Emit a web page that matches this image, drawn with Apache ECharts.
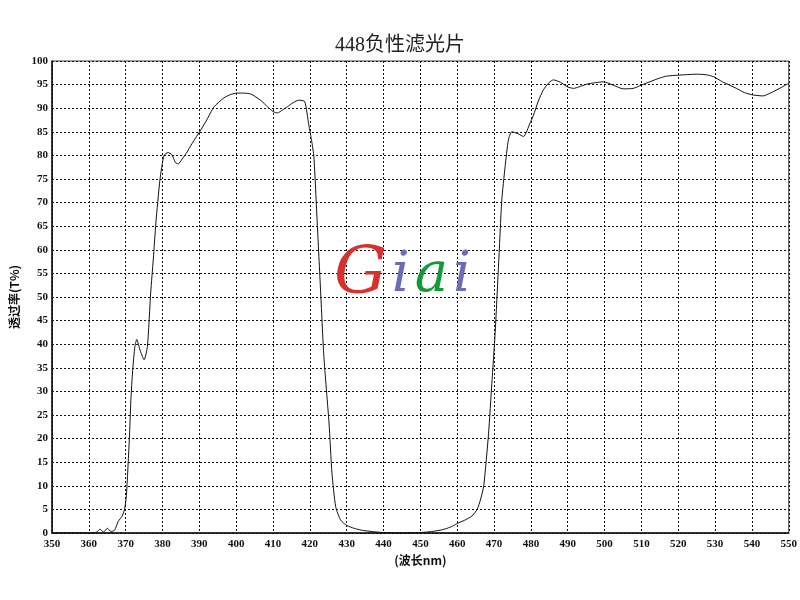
<!DOCTYPE html>
<html><head><meta charset="utf-8">
<script src="https://cdn.jsdelivr.net/npm/echarts@6/dist/echarts.min.js"></script>
<style>html,body{margin:0;padding:0;background:#fff}#c{width:800px;height:600px}</style>
</head><body><div id="c"></div>
<script>
var wavelengths = [350,355,360,362,363,364,365,366,367,368,369,369.7,370.2,371,371.4,371.9,372.5,373,374,375,375.9,376.8,377.5,378.2,379.3,380.4,381.5,382.5,383.5,384.3,385.3,386.5,388,390.4,392,394,396.7,398.5,400.3,402,404,406.6,408.5,410,411.2,412.5,413.9,415.5,417,418.6,419.7,420.5,421.1,422,422.9,423.8,425.2,426,427,428.3,430,432,434,437,440,445,450,453,456,458,460,462,464,465.4,466.3,467.2,468.5,469.4,470.3,471.2,472.1,473,473.9,474.8,476.5,478,479.8,480.7,482,483.4,485,486.1,488,490,491.6,493,495.2,497.5,499.7,502,505.1,507.8,510,512.3,515,516.9,520,525,527.5,529.5,532,535.8,538,540.3,543,545,548,550];
var transmittance = [0,0,0,0.1,0.8,0.2,1.0,0.3,0.6,2.5,3.5,5,8,20,28,34.5,39.5,41,38.5,36.7,39.5,51,58,65.7,74.8,80,80.6,80.2,78.5,78.2,79.2,80.5,82.5,85.4,87.5,90.3,92.2,92.9,93.2,93.2,93,91.7,90.3,89.3,89,89.6,90.3,91.2,91.7,91.4,86.5,83,79.7,65.7,51.5,37.4,23.3,12.7,5.6,2.8,1.6,1.0,0.6,0.3,0.1,0.05,0.1,0.3,0.7,1.2,2,2.7,3.6,5,7,10,21,31.7,42.4,56.4,70.5,77.6,83.3,85,84.6,84,86.9,88.5,91.5,93.9,95.5,96,95.5,94.5,94.2,94.5,95.1,95.4,95.6,95,94.1,94.2,94.9,95.6,96.4,96.8,97,97.2,97.1,96.7,95.6,94.2,93.3,92.8,92.6,93.2,94.4,95.3];
var titleText = '448负性滤光片';
var xName = '(波长nm)';
var yName = '透过率(T%)';

var points = wavelengths.map(function(w,i){return [w, transmittance[i]];});
var chart = echarts.init(document.getElementById('c'));
var labelFont = {color:'#111', fontFamily:'Liberation Serif, serif', fontWeight:'bold', fontSize:11};
chart.setOption({
  animation:false,
  backgroundColor:'#fff',
  title:{text:titleText, left:'center', top:31, textStyle:{fontFamily:'Liberation Serif, Noto Sans CJK SC', fontWeight:'normal', fontSize:20, color:'#222'}},
  grid:{left:51, right:11, top:61, bottom:67, show:true, borderColor:'#444', borderWidth:1},
  xAxis:{type:'value', min:350, max:550, interval:10,
    name:xName, nameLocation:'middle', nameGap:16,
    nameTextStyle:{fontFamily:'Noto Sans CJK SC', fontWeight:'bold', fontSize:12, color:'#111'},
    axisLine:{lineStyle:{color:'#111', width:1.5}}, axisTick:{show:false},
    axisLabel:Object.assign({margin:6}, labelFont),
    splitLine:{show:true, lineStyle:{color:'#111', type:[2,2], width:1}}},
  yAxis:{type:'value', min:0, max:100, interval:5,
    name:yName, nameLocation:'middle', nameGap:32, nameRotate:90,
    nameTextStyle:{fontFamily:'Noto Sans CJK SC', fontWeight:'bold', fontSize:12, color:'#111'},
    axisLine:{show:true, lineStyle:{color:'#111', width:1.5}}, axisTick:{show:false},
    axisLabel:Object.assign({margin:4}, labelFont),
    splitLine:{show:true, lineStyle:{color:'#111', type:[2,2], width:1}}},
  graphic:[{type:'text', left:334, top:243, z:10,
    style:{text:'{g|G}{b|i}{a|a}{b|i}', rich:{
      g:{fill:'#d8302c', fontSize:66, fontStyle:'italic', fontFamily:'DejaVu Serif, serif', padding:[0,2,0,0]},
      b:{fill:'#6a6cb8', fontSize:56, fontStyle:'italic', fontFamily:'DejaVu Serif, serif', padding:[0,3,0,3]},
      a:{fill:'#159a3a', fontSize:56, fontStyle:'italic', fontFamily:'DejaVu Serif, serif', padding:[0,2,0,2]}}}}],
  series:[{type:'line', data:points, showSymbol:false, smooth:0.2,
    lineStyle:{color:'#111', width:1}}]
});
</script></body></html>
